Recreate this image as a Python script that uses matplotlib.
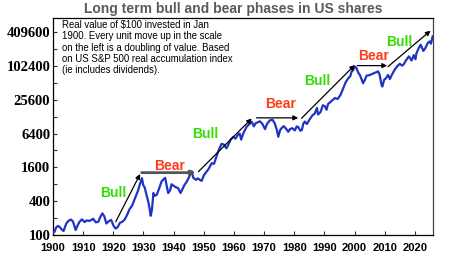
import matplotlib
matplotlib.use("Agg")
import matplotlib.pyplot as plt
from matplotlib.ticker import FixedLocator, NullFormatter

# Real value of $100 invested in Jan 1900
years = [1900.0, 1900.5, 1901.0, 1901.6, 1902.3, 1902.9, 1903.5, 1904.4, 1905.2, 1906.0,
         1906.6, 1907.5, 1908.2, 1908.8, 1909.6, 1910.5, 1911.2, 1912.0, 1912.7, 1913.3,
         1914.2, 1915.0, 1915.8, 1916.4, 1917.0, 1917.7, 1918.4, 1919.3, 1920.1, 1920.8,
         1921.5, 1922.2, 1923.0, 1923.8, 1924.6, 1925.4, 1926.2, 1927.1, 1928.2, 1928.8,
         1929.5, 1929.9, 1930.4, 1931.0, 1931.6, 1932.0, 1932.4, 1932.8, 1933.3, 1933.8,
         1934.4, 1935.3, 1936.0, 1936.6, 1937.2, 1937.8, 1938.2, 1938.8, 1939.3, 1939.9,
         1940.5, 1941.5, 1942.3, 1942.9, 1943.6, 1944.3, 1945.2, 1946.0, 1946.5, 1947.4,
         1948.0, 1948.7, 1949.3, 1950.0, 1950.8, 1951.6, 1952.6, 1953.4, 1954.2, 1955.0,
         1955.9, 1956.6, 1957.5, 1958.1, 1958.9, 1959.8, 1960.5, 1961.4, 1961.9, 1962.4,
         1963.0, 1964.2, 1965.0, 1965.9, 1966.6, 1967.2, 1967.9, 1968.6, 1969.4, 1970.3,
         1971.0, 1971.9, 1972.8, 1973.5, 1974.2, 1974.7, 1975.3, 1975.8, 1976.5, 1977.3,
         1978.0, 1978.6, 1979.3, 1980.2, 1980.8, 1981.3, 1982.0, 1982.5, 1983.0, 1983.5,
         1984.2, 1985.1, 1986.0, 1986.8, 1987.5, 1987.9, 1988.7, 1989.5, 1990.2, 1990.7,
         1991.2, 1992.4, 1993.5, 1994.4, 1995.3, 1996.2, 1997.0, 1997.9, 1998.6, 1999.0,
         1999.6, 2000.1, 2000.6, 2001.2, 2001.8, 2002.3, 2002.8, 2003.4, 2004.0, 2004.8,
         2005.6, 2006.7, 2007.8, 2008.3, 2008.9, 2009.2, 2009.8, 2010.4, 2011.1, 2011.7,
         2012.4, 2013.4, 2014.3, 2015.0, 2015.7, 2016.2, 2017.0, 2018.0, 2018.9, 2019.6,
         2020.2, 2020.5, 2021.3, 2021.9, 2022.8, 2023.5, 2024.3, 2025.0, 2025.3, 2025.9]
values = [110, 114, 135, 145, 138, 125, 118, 160, 180, 188,
          175, 123, 150, 172, 190, 170, 182, 178, 185, 195,
          168, 172, 215, 243, 215, 160, 175, 185, 145, 130,
          140, 165, 172, 190, 230, 290, 330, 440, 620, 800,
          1030, 780, 700, 520, 390, 300, 220, 280, 560, 500,
          520, 700, 900, 980, 1040, 700, 560, 620, 800, 760,
          720, 680, 560, 650, 780, 880, 1100, 1360, 1050, 960,
          1020, 960, 920, 1150, 1320, 1500, 1900, 1850, 2500, 3300,
          4200, 4100, 3500, 4000, 5000, 5600, 5200, 6200, 6400, 5000,
          6300, 8500, 9300, 10400, 8600, 9800, 10200, 10600, 9600, 7700,
          9600, 11000, 11300, 9800, 7500, 5600, 7400, 8000, 8700, 7800,
          6900, 7700, 8000, 7300, 8600, 8400, 7200, 7400, 9600, 10500,
          9500, 11500, 13500, 14600, 18300, 14000, 15500, 20500, 19500, 17000,
          21500, 24500, 27500, 26500, 31000, 41000, 52000, 62000, 68000, 81000,
          88000, 100000, 95000, 78000, 70000, 60000, 50500, 58000, 69000, 70000,
          73000, 77000, 82000, 72000, 48000, 44000, 58000, 62000, 71000, 60000,
          72000, 90000, 103000, 112000, 104000, 108000, 128000, 152000, 128000, 160000,
          135000, 172000, 215000, 245000, 190000, 215000, 265000, 280000, 255000, 345000]

# Phases: arrow start / end (year, value) and label position
phase_names = ["Bull", "Bear", "Bull", "Bear", "Bull", "Bear", "Bull"]
arrow_start = [(1920.8, 172), (1929.4, 1290), (1948.2, 1340), (1967.5, 12200),
               (1982.4, 12000), (2000.9, 104000), (2011.1, 100000)]
arrow_end = [(1928.9, 1220), (1947.3, 1290), (1965.9, 11900), (1981.3, 12200),
             (2000.1, 107000), (2010.8, 104000), (2025.2, 436000)]
label_pos = [(1920.1, 552), (1938.8, 1700), (1950.6, 6300), (1975.5, 21600),
             (1987.5, 54800), (2006.3, 152000), (2014.7, 277000)]

y_major = [100, 400, 1600, 6400, 25600, 102400, 409600]
y_minor = [200, 800, 3200, 12800, 51200, 204800]
x_ticks = list(range(1900, 2021, 10))

note = ("Real value of \\$100 invested in Jan\n"
        "1900. Every unit move up in the scale\n"
        "on the left is a doubling of value. Based\n"
        "on US S&P 500 real accumulation index\n"
        "(ie includes dividends).")

bull_color = "#33dd00"
bear_color = "#ff3b1a"

fig = plt.figure(figsize=(4.53, 2.59), dpi=100)
ax = fig.add_axes([53 / 453, 1 - 235 / 259, 380 / 453, 217 / 259])

ax.plot(years, values, color="#1f33c4", linewidth=1.6, zorder=3)

for i, name in enumerate(phase_names):
    if i == 1:
        props = dict(arrowstyle="-|>", color="#555555", lw=2.0, mutation_scale=6,
                     shrinkA=0, shrinkB=0)
    else:
        props = dict(arrowstyle="-|>", color="black", lw=0.9, mutation_scale=7,
                     shrinkA=0, shrinkB=0)
    ax.annotate("", xy=arrow_end[i], xytext=arrow_start[i], arrowprops=props, zorder=4)
    ax.text(label_pos[i][0], label_pos[i][1], name,
            color=bull_color if name == "Bull" else bear_color,
            fontsize=10, fontweight="bold", family="Liberation Sans",
            ha="center", va="center", zorder=5)

ax.set_yscale("log", base=2)
ax.set_xlim(1900, 2026)
ax.set_ylim(100, 733000)
ax.yaxis.set_major_locator(FixedLocator(y_major))
ax.yaxis.set_minor_locator(FixedLocator(y_minor))
ax.yaxis.set_minor_formatter(NullFormatter())
ax.set_yticklabels([str(v) for v in y_major])
ax.set_xticks(x_ticks)
ax.set_xticklabels([str(x) for x in x_ticks])

ax.tick_params(axis="both", which="both", direction="in", length=3, width=0.8, color="#333333")
ax.tick_params(axis="y", pad=2, labelsize=10.5)
ax.tick_params(axis="x", pad=6, labelsize=8)
for lbl in ax.get_yticklabels():
    lbl.set_family("Liberation Serif")
    lbl.set_fontweight("bold")
for lbl in ax.get_xticklabels():
    lbl.set_family("Liberation Sans")
    lbl.set_fontweight("bold")

for side in ["left", "bottom", "top"]:
    ax.spines[side].set_color("black")
    ax.spines[side].set_linewidth(0.9)
ax.spines["right"].set_color("#444444")
ax.spines["right"].set_linewidth(0.9)

ax.text(0.024, 0.99, note, transform=ax.transAxes, ha="left", va="top",
        fontsize=6.9, family="Liberation Sans", linespacing=1.15, zorder=6)

fig.text(233 / 453, 1 - 9 / 259, "Long term bull and bear phases in US shares",
         ha="center", va="center", fontsize=10, fontweight="bold",
         family="Liberation Sans", color="#5a5a5a")

fig.savefig("out.png", dpi=100)
